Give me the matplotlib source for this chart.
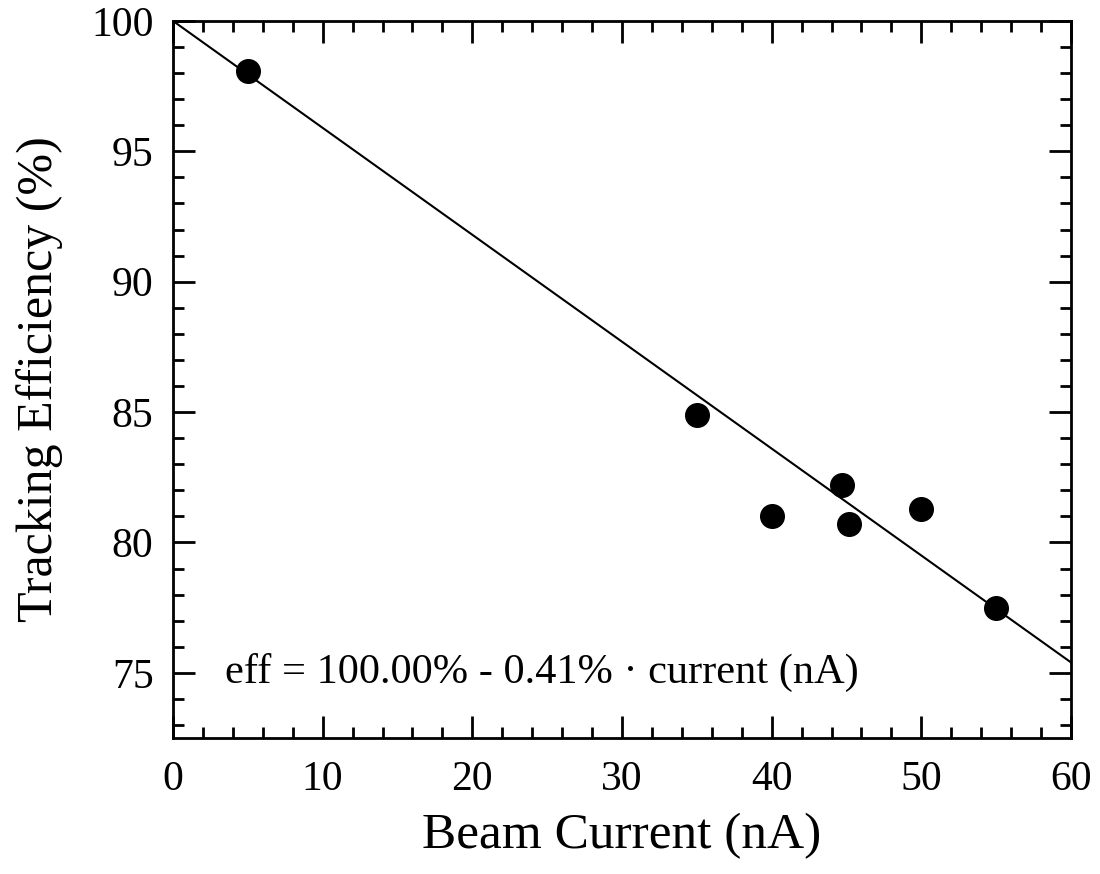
import matplotlib
matplotlib.use("Agg")
import matplotlib.pyplot as plt
import numpy as np
from matplotlib.ticker import MultipleLocator

current = [5.0, 35.0, 40.0, 44.7, 45.2, 50.0, 55.0]
efficiency = [98.1, 84.9, 81.0, 82.2, 80.7, 81.3, 77.5]
fit_intercept = 100.0
fit_slope = -0.41

plt.rcParams['font.family'] = ['Liberation Serif', 'DejaVu Serif']
plt.rcParams['mathtext.fontset'] = 'stix'

fig = plt.figure(figsize=(11, 8.74), dpi=100)
ax = fig.add_axes([0.1573, 0.1556, 0.8163, 0.8204])

xl = np.array([0, 60])
ax.plot(xl, fit_intercept + fit_slope * xl, color='black', lw=1.5)
ax.plot(current, efficiency, 'o', color='black', markersize=17)

ax.set_xlim(0, 60)
ax.set_ylim(72.5, 100)
ax.xaxis.set_major_locator(MultipleLocator(10))
ax.xaxis.set_minor_locator(MultipleLocator(2))
ax.yaxis.set_major_locator(MultipleLocator(5))
ax.yaxis.set_minor_locator(MultipleLocator(1))
ax.tick_params(which='both', direction='in', top=True, right=True, width=2, labelsize=30)
ax.tick_params(which='major', length=16)
ax.tick_params(axis='x', which='major', pad=16)
ax.tick_params(axis='y', which='major', pad=14)
ax.tick_params(which='minor', length=8)
for s in ax.spines.values():
    s.set_linewidth(2)

ax.set_xlabel('Beam Current (nA)', fontsize=37, labelpad=10)
ax.set_ylabel('Tracking Efficiency (%)', fontsize=36, labelpad=20)
ax.text(3.5, 75, 'eff = 100.00% - 0.41% \u00b7 current (nA)', fontsize=30.5, va='center', ha='left')

fig.savefig('out.png', dpi=100)
